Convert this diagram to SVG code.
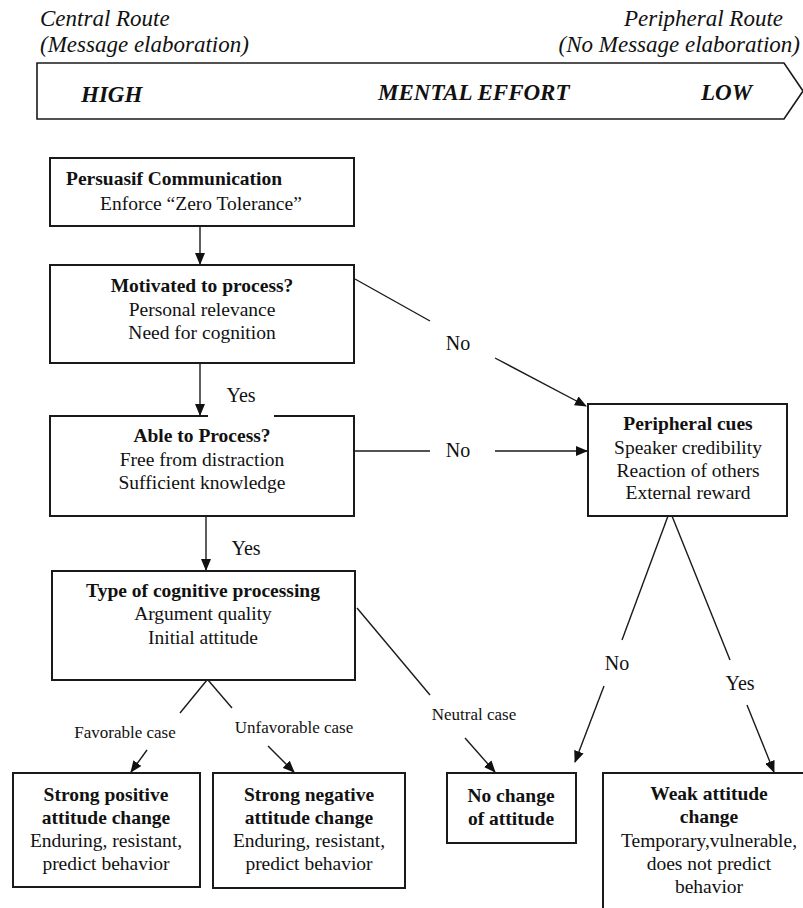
<svg xmlns="http://www.w3.org/2000/svg" width="803" height="908" viewBox="0 0 803 908">
<style>
text{font-family:"Liberation Serif","Times New Roman","DejaVu Serif",serif;fill:#111}
.hi{font-size:23px;font-style:italic}
.hb{font-size:23px;font-style:italic;font-weight:bold}
.t{font-size:19.5px;text-anchor:middle}
.st{text-anchor:start}
.b{font-weight:bold}
.lab{font-size:20px;text-anchor:middle}
.sm{font-size:17px;text-anchor:middle}
.box{fill:#fff;stroke:#1a1a1a;stroke-width:2}
.ln{fill:none;stroke:#1a1a1a;stroke-width:1.4}
.ar{fill:none;stroke:#1a1a1a;stroke-width:1.4;marker-end:url(#ah)}
</style>
<defs>
<marker id="ah" markerUnits="userSpaceOnUse" markerWidth="12" markerHeight="10" refX="11" refY="5" orient="auto">
<path d="M0,0 L12,5 L0,10 z" fill="#111"/>
</marker>
</defs>
<rect width="803" height="908" fill="#fff"/>

<g id="header">
<text class="hi" x="40" y="26">Central Route</text>
<text class="hi" x="40" y="52">(Message elaboration)</text>
<text class="hi" x="783" y="26" text-anchor="end">Peripheral Route</text>
<text class="hi" x="800" y="52" text-anchor="end">(No Message elaboration)</text>
<polygon points="37,63 784,63 803,91 784,119 37,119" fill="#fff" stroke="#1a1a1a" stroke-width="1.6"/>
<text class="hb" x="81" y="102">HIGH</text>
<text class="hb" x="378" y="100">MENTAL EFFORT</text>
<text class="hb" x="701" y="100">LOW</text>
</g>

<g id="connectors">
<line class="ar" x1="200" y1="226" x2="200" y2="264"/>
<line class="ar" x1="200" y1="363" x2="200" y2="415"/>
<line class="ar" x1="206" y1="516" x2="206" y2="570"/>
<line class="ln" x1="355" y1="279" x2="430" y2="321"/>
<line class="ar" x1="495" y1="358" x2="586" y2="406"/>
<line class="ln" x1="354" y1="451" x2="430" y2="451"/>
<line class="ar" x1="495" y1="451" x2="587" y2="451"/>
<line class="ln" x1="357" y1="608" x2="430" y2="695"/>
<line class="ar" x1="465" y1="738" x2="495" y2="772"/>
<line class="ln" x1="207" y1="680" x2="180" y2="713"/>
<line class="ar" x1="147" y1="750" x2="131" y2="772"/>
<line class="ln" x1="208" y1="680" x2="232" y2="708"/>
<line class="ar" x1="268" y1="746" x2="294" y2="772"/>
<line class="ln" x1="668" y1="516" x2="622" y2="640"/>
<line class="ar" x1="604" y1="686" x2="575" y2="762"/>
<line class="ln" x1="672" y1="516" x2="730" y2="660"/>
<line class="ar" x1="747" y1="705" x2="774" y2="772"/>
</g>

<g id="n-persuasif">
<rect class="box" x="50" y="158" width="304" height="68"/>
<text class="t b st" x="66" y="185">Persuasif Communication</text>
<text class="t st" x="100" y="210">Enforce “Zero Tolerance”</text>
</g>

<g id="n-motivated">
<rect class="box" x="50" y="265" width="304" height="98"/>
<text class="t b" x="202" y="292">Motivated to process?</text>
<text class="t" x="202" y="316">Personal relevance</text>
<text class="t" x="202" y="339">Need for cognition</text>
</g>

<g id="n-able">
<rect class="box" x="50" y="416" width="304" height="100"/>
<text class="t b" x="202" y="442">Able to Process?</text>
<text class="t" x="202" y="466">Free from distraction</text>
<text class="t" x="202" y="489">Sufficient knowledge</text>
</g>

<g id="n-type">
<rect class="box" x="52" y="571" width="303" height="109"/>
<text class="t b" x="203" y="597">Type of cognitive processing</text>
<text class="t" x="203" y="620">Argument quality</text>
<text class="t" x="203" y="644">Initial attitude</text>
</g>

<g id="n-peripheral">
<rect class="box" x="588" y="404" width="199" height="112"/>
<text class="t b" x="688" y="430">Peripheral cues</text>
<text class="t" x="688" y="454">Speaker credibility</text>
<text class="t" x="688" y="477">Reaction of others</text>
<text class="t" x="688" y="499">External reward</text>
</g>

<g id="n-positive">
<rect class="box" x="13" y="773" width="187" height="114"/>
<text class="t b" x="106" y="801">Strong positive</text>
<text class="t b" x="106" y="824">attitude change</text>
<text class="t" x="106" y="847">Enduring, resistant,</text>
<text class="t" x="106" y="870">predict behavior</text>
</g>

<g id="n-negative">
<rect class="box" x="213" y="773" width="192" height="115"/>
<text class="t b" x="309" y="801">Strong negative</text>
<text class="t b" x="309" y="824">attitude change</text>
<text class="t" x="309" y="847">Enduring, resistant,</text>
<text class="t" x="309" y="870">predict behavior</text>
</g>

<g id="n-nochange">
<rect class="box" x="447" y="773" width="129" height="70"/>
<text class="t b" x="511" y="802">No change</text>
<text class="t b" x="511" y="825">of attitude</text>
</g>

<g id="n-weak">
<rect class="box" x="603" y="773" width="215" height="150"/>
<text class="t b" x="709" y="800">Weak attitude</text>
<text class="t b" x="709" y="823">change</text>
<text class="t" x="709" y="847">Temporary,vulnerable,</text>
<text class="t" x="709" y="870">does not predict</text>
<text class="t" x="709" y="893">behavior</text>
</g>

<g id="labels">
<rect x="208" y="384" width="66" height="34" fill="#fff"/>
<text class="lab" x="241" y="402">Yes</text>
<text class="lab" x="246" y="555">Yes</text>
<text class="lab" x="458" y="350">No</text>
<text class="lab" x="458" y="457">No</text>
<text class="sm" x="474" y="720">Neutral case</text>
<text class="sm" x="125" y="738">Favorable case</text>
<text class="sm" x="294" y="733">Unfavorable case</text>
<text class="lab" x="617" y="670">No</text>
<text class="lab" x="740" y="690">Yes</text>
</g>
</svg>
